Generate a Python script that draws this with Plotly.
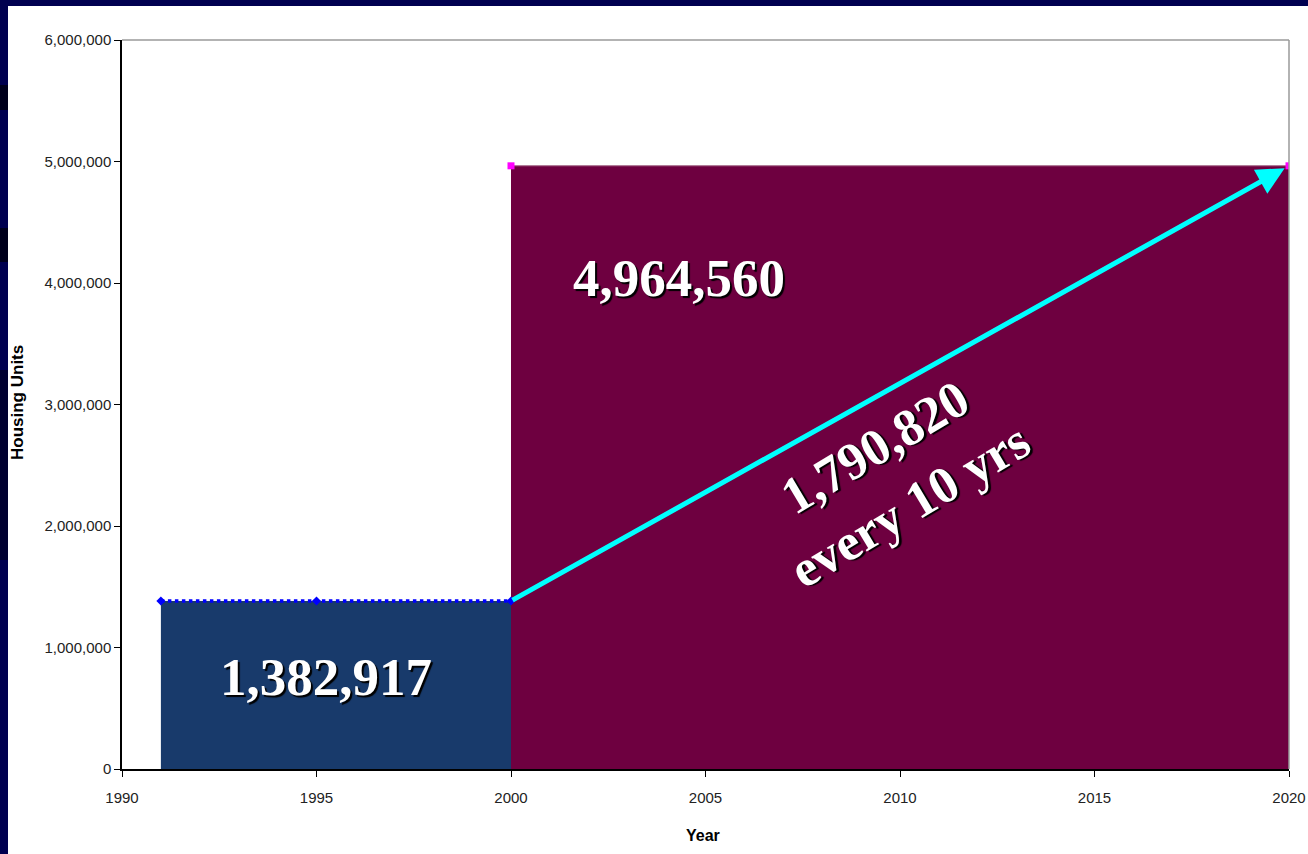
import plotly.graph_objects as go

# ---- data ----
years_ticks = [1990, 1995, 2000, 2005, 2010, 2015, 2020]
y_ticks = [0, 1000000, 2000000, 3000000, 4000000, 5000000, 6000000]

hist_years = [1991, 1995, 2000]
hist_units = [1382917, 1382917, 1382917]

proj_years = [2000, 2020]
proj_units = [4964560, 4964560]

arrow_start = (2000, 1382917)
arrow_end = (2020, 4964560)

label_hist = "1,382,917"
label_proj = "4,964,560"
label_rate = "1,790,820<br>every 10 yrs"

NAVY = "#000050"
DARK = "#00001c"
BLUE_FILL = "#183a6b"
MAROON = "#6e0040"

L, R, T, B = 122, 19, 40, 85
PW = 1308 - L - R
PH = 854 - T - B

fig = go.Figure()

# filled areas
fig.add_trace(go.Scatter(x=[hist_years[0], hist_years[-1]], y=[hist_units[0], hist_units[-1]],
                         mode="lines", fill="tozeroy", fillcolor=BLUE_FILL,
                         line=dict(width=0, color=BLUE_FILL), hoverinfo="skip", showlegend=False))
fig.add_trace(go.Scatter(x=proj_years, y=proj_units,
                         mode="lines", fill="tozeroy", fillcolor=MAROON,
                         line=dict(width=1, color="#a06080"), hoverinfo="skip", showlegend=False))

# blue dotted line
fig.add_trace(go.Scatter(x=hist_years, y=hist_units, mode="lines+markers",
                         line=dict(color="#0000ff", width=3.5, dash="dot"),
                         marker=dict(symbol="diamond", size=7, color="#0000ff"),
                         showlegend=False))
# magenta markers
fig.add_trace(go.Scatter(x=proj_years, y=proj_units, mode="markers",
                         marker=dict(symbol="square", size=7, color="#ff00ff"),
                         showlegend=False))

shadow = "2px 2px 1px #000000"
serif = "Liberation Serif, Times New Roman, serif"
sans = "Liberation Sans Narrow, Arial Narrow, Liberation Sans, Arial, sans-serif"

annotations = [
    dict(x=arrow_end[0], y=arrow_end[1], ax=arrow_start[0], ay=arrow_start[1],
         xref="x", yref="y", axref="x", ayref="y", text="", showarrow=True,
         arrowcolor="#00ffff", arrowwidth=5, arrowhead=2, arrowsize=1.1, standoff=5),
    dict(x=2004.32, y=4040000, xref="x", yref="y", text="<b>%s</b>" % label_proj, showarrow=False,
         font=dict(family=serif, size=53, color="white", shadow=shadow)),
    dict(x=1995.24, y=757000, xref="x", yref="y", text="<b>%s</b>" % label_hist, showarrow=False,
         font=dict(family=serif, size=53, color="white", shadow=shadow)),
    dict(x=2009.8, y=2410000, xref="x", yref="y", text="<b>%s</b>" % label_rate, showarrow=False,
         textangle=-31, align="center",
         font=dict(family=serif, size=52, color="white", shadow=shadow)),
    dict(x=(18 - L) / PW, y=(769 - 403) / PH, xref="paper", yref="paper",
         xanchor="center", yanchor="middle",
         text="<b>Housing Units</b>", textangle=-90, showarrow=False,
         font=dict(family=sans, size=17, color="black")),
    dict(x=(703 - L) / PW, y=(769 - 835) / PH, xref="paper", yref="paper",
         xanchor="center", yanchor="middle",
         text="<b>Year</b>", showarrow=False,
         font=dict(family=sans, size=16, color="black")),
]

xl = (8 - L) / PW
shapes = [
    # white slide panel
    dict(type="rect", xref="paper", yref="paper", x0=xl, x1=1.2,
         y0=-0.3, y1=(769 - 6) / PH, fillcolor="white", line=dict(width=0), layer="below"),
    # dark bands on left strip
    dict(type="rect", xref="paper", yref="paper", x0=-0.2, x1=xl,
         y0=(769 - 110) / PH, y1=(769 - 85) / PH, fillcolor=DARK, line=dict(width=0), layer="below"),
    dict(type="rect", xref="paper", yref="paper", x0=-0.2, x1=xl,
         y0=(769 - 262) / PH, y1=(769 - 228) / PH, fillcolor=DARK, line=dict(width=0), layer="below"),
    dict(type="rect", xref="paper", yref="paper", x0=-0.2, x1=xl,
         y0=(769 - 560) / PH, y1=(769 - 370) / PH, fillcolor="#000030", line=dict(width=0), layer="below"),
    # gray frame top / right
    dict(type="line", xref="paper", yref="paper", x0=0, x1=1, y0=1, y1=1,
         line=dict(color="#9a9a9a", width=1.5)),
    dict(type="line", xref="paper", yref="paper", x0=1, x1=1, y0=0, y1=1,
         line=dict(color="#9a9a9a", width=1.5)),
]

tickfont = dict(family=sans, size=15, color="#222222")

fig.update_layout(
    width=1308, height=854,
    margin=dict(l=L, r=R, t=T, b=B),
    paper_bgcolor=NAVY, plot_bgcolor="white",
    showlegend=False,
    annotations=annotations, shapes=shapes,
    xaxis=dict(range=[1990, 2020], tickvals=years_ticks, ticktext=[str(v) for v in years_ticks],
               showgrid=False, zeroline=False, showline=True, linecolor="black", linewidth=1.5,
               ticks="outside", ticklen=6, tickcolor="black", tickfont=tickfont,
               ticklabelstandoff=8, automargin=False),
    yaxis=dict(range=[0, 6000000], tickvals=y_ticks, tickformat=",",
               showgrid=False, zeroline=False, showline=True, linecolor="black", linewidth=1.5,
               ticks="outside", ticklen=6, tickcolor="black", tickfont=tickfont, automargin=False),
)

fig.write_html("out.html")
